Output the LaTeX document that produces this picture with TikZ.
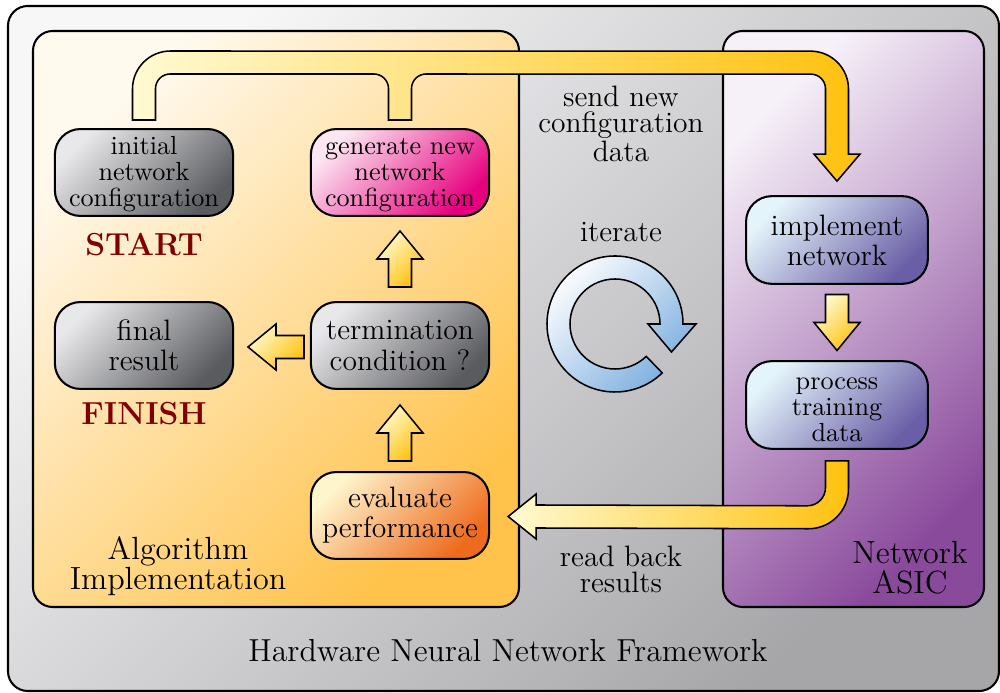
\documentclass[tikz,border=0pt]{standalone}
\usepackage{tikz}
\usepackage{xcolor}
\usetikzlibrary{calc}

\definecolor{frameL}{HTML}{F7F7F8}
\definecolor{frameD}{HTML}{A6A6A9}
\definecolor{algoL}{HTML}{FFF9EE}
\definecolor{algoD}{HTML}{FFC24A}
\definecolor{asicL}{HTML}{F6F0F8}
\definecolor{asicD}{HTML}{8A4A9C}
\definecolor{boxL}{HTML}{E8E8EA}
\definecolor{boxD}{HTML}{5A5B5F}
\definecolor{pinkL}{HTML}{FCE6F1}
\definecolor{pinkD}{HTML}{E6007E}
\definecolor{evalL}{HTML}{FFF5CC}
\definecolor{evalD}{HTML}{EE6A1C}
\definecolor{chipL}{HTML}{E4F4FB}
\definecolor{chipD}{HTML}{6A5FA6}
\definecolor{arrL}{HTML}{FFFAD2}
\definecolor{arrD}{HTML}{FFC10E}
\definecolor{loopL}{HTML}{FFFFFF}
\definecolor{loopD}{HTML}{78ACDE}
\definecolor{startred}{HTML}{800000}

\newcommand{\topstrut}{\rule{0pt}{8.5pt}}

\begin{document}
\begin{tikzpicture}[x=0.1369mm, y=-0.1369mm,
                    every node/.style={inner sep=0pt},
                    diag/.style 2 args={top color=#1, bottom color=#2, shading angle=45},
                    panel/.style={draw, thick, rounded corners=2.7mm},
                    box/.style={draw, thick, rounded corners=3.5mm, align=center,
                                minimum width=24.4mm, minimum height=11.9mm,
                                font=\fontsize{11.5}{11.7}\selectfont},
                    smallbox/.style={box, font=\fontsize{10.2}{10.1}\selectfont},
                    chip/.style={box, minimum width=24.9mm, minimum height=12mm, diag={chipL}{chipD}},
                    route/.style={draw, semithick, left color=arrL, right color=arrD},
                    blk/.style={draw, semithick, diag={arrL}{arrD}},
                    lbl/.style={align=center, font=\fontsize{11.5}{10}\selectfont},
                    big/.style={align=center, font=\fontsize{12.5}{11.7}\selectfont},
                    tag/.style={font=\fontsize{12.4}{14}\selectfont\bfseries, text=startred},
                    blkarrow/.pic={\path[blk] (-11.5,28) -- (-11.5,0) -- (-23,0) -- (0,-28)
                                        -- (23,0) -- (11.5,0) -- (11.5,28) -- cycle;}]
\useasboundingbox (0,0) rectangle (1000,693);
\draw[thick, rounded corners=2.7mm, diag={frameL}{frameD}] (8,6) rectangle (999,691);
\draw[panel, diag={algoL}{algoD}] (33,31) rectangle (519,607);
\draw[panel, diag={asicL}{asicD}] (723,31) rectangle (984,607);

\node[smallbox, diag={boxL}{boxD}] (init) at (144,172.5) {\topstrut initial\\network\\configuration};
\node[smallbox, diag={pinkL}{pinkD}] (gen) at (400,172.5) {\topstrut generate new\\network\\configuration};
\node[box, diag={boxL}{boxD}] (final) at (144,345.5) {final\\result};
\node[box, diag={boxL}{boxD}] (term) at (400,345.5) {termination\\condition ?};
\node[box, diag={evalL}{evalD}] (eval) at (400,515.5) {evaluate\\performance};
\node[chip] (impl) at (837,240) {implement\\network};
\node[chip, font=\fontsize{10.2}{10.1}\selectfont] (proc) at (837,405) {\topstrut process\\training\\data};

\node[tag] (start) at (144,245) {START};
\node[tag] (finish) at (144,414) {FINISH};

\pic at ($(term.north)!.5!(gen.south)$) {blkarrow};
\pic at ($(eval.north)!.5!(term.south)+(0,2.5)$) {blkarrow};
\pic[rotate=90] at ($(term.west)!.5!(final.east)+(4,1.5)$) {blkarrow};
\pic[rotate=180] at ($(impl.south)!.5!(proc.north)$) {blkarrow};

% send new configuration data
\path[route] ($(init.north)+(-11.5,-8)$) [rounded corners=5.2mm]
   -- ($(init.north)+(-11.5,-77)$) -- ($(impl.north)+(11.5,-144)$) [sharp corners]
   -- ($(impl.north)+(11.5,-41)$) -- ($(impl.north)+(23,-41)$) -- ($(impl.north)+(0,-14)$)
   -- ($(impl.north)+(-23,-41)$) -- ($(impl.north)+(-11.5,-41)$) [rounded corners=2mm]
   -- ($(impl.north)+(-11.5,-121)$) -- ($(gen.north)+(11.5,-54)$) [sharp corners]
   -- ($(gen.north)+(11.5,-8)$) -- ($(gen.north)+(-11.5,-8)$) [rounded corners=2mm]
   -- ($(gen.north)+(-11.5,-54)$) -- ($(init.north)+(11.5,-54)$) [sharp corners]
   -- ($(init.north)+(11.5,-8)$) -- cycle;

% read back results
\path[route] ($(proc.south)+(-11.5,11)$) [rounded corners=2.5mm]
   -- ($(proc.south)+(-11.5,56)$) [sharp corners] -- ($(eval.east)+(46,-10.5)$)
   -- ($(eval.east)+(46,-21.5)$) -- ($(eval.east)+(18,1)$) -- ($(eval.east)+(46,23.5)$)
   -- ($(eval.east)+(46,12.5)$) [rounded corners=5.5mm] -- ($(proc.south)+(11.5,79)$) [sharp corners]
   -- ($(proc.south)+(11.5,11)$) -- cycle;

% iterate
\coordinate (loop) at (615,324);
\path[draw, semithick, diag={loopL}{loopD}] ($(loop)+(46:68)$) arc[start angle=46, end angle=360, radius=68]
   -- ++(13,0) -- ($(loop)+(56.5,28)$) -- ($(loop)+(33,0)$) -- ($(loop)+(45,0)$)
   arc[start angle=360, end angle=46, radius=45] -- cycle;

\node[lbl] (send) at (621,124) {send new\\configuration\\data};
\node[lbl] (iter) at (621,232) {iterate};
\node[lbl] (read) at (621,569.5) {read back\\results};
\node[big] (algo) at (178,566) {Algorithm\\Implementation};
\node[big] (asic) at (910,568) {Network\\ASIC};
\node[font=\fontsize{12.4}{14}\selectfont] (title) at (508,651) {Hardware Neural Network Framework};
\end{tikzpicture}
\end{document}
